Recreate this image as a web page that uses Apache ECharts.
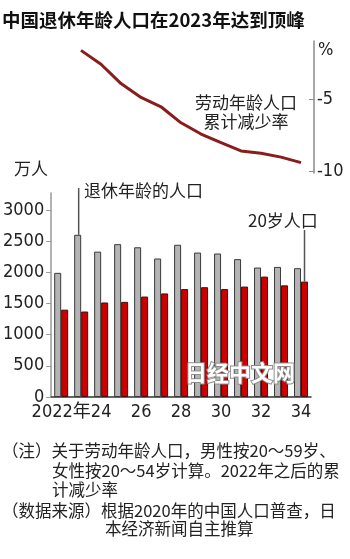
<!DOCTYPE html>
<html>
<head>
<meta charset="utf-8">
<style>
  html, body { margin: 0; padding: 0; background: #fff; }
  #chart { width: 350px; height: 559px; }
</style>
<script src="https://cdn.jsdelivr.net/npm/echarts@6/dist/echarts.min.js"></script>
</head>
<body>
<div id="chart"></div>
<script>
// Years on the category axis (labels shown every other year)
const years = ['2022年', '23', '24', '25', '26', '27', '28', '29', '30', '31', '32', '33', '34'];
// Retirement-age population, 10k people (grey bars)
const retireAge = [1990, 2600, 2330, 2450, 2400, 2220, 2440, 2315, 2300, 2210, 2075, 2085, 2065];
// Population turning 20, 10k people (red bars)
const age20 = [1400, 1370, 1515, 1525, 1610, 1660, 1730, 1760, 1730, 1770, 1930, 1790, 1850];
// Cumulative decline of the working-age population since 2022, %
const laborDecline = [null, -1.6, -2.56, -3.9, -4.86, -5.51, -6.62, -7.4, -8.0, -8.57, -8.73, -9.0, -9.38];
// Tick labels
const barTicks = [0, 500, 1000, 1500, 2000, 2500, 3000];
const pctTicks = [-5, -10];

// Pick the first condensed face that is actually installed
function pickFont(cands) {
  const ctx = document.createElement('canvas').getContext('2d');
  const probe = '3000 -10 2022';
  ctx.font = '40px monospace';
  const base = ctx.measureText(probe).width;
  for (const f of cands) {
    ctx.font = "40px '" + f + "', monospace";
    if (Math.abs(ctx.measureText(probe).width - base) > 0.5) return "'" + f + "'";
  }
  return 'sans-serif';
}
const NUMFACE = pickFont(['Liberation Sans Narrow', 'Arial Narrow', 'DejaVu Sans Condensed', 'Roboto Condensed', 'Liberation Sans']);
const NARROW = NUMFACE + ", 'Noto Sans CJK SC', sans-serif";
const CJK = "'Noto Sans CJK SC', sans-serif";
const INK = '#222';

const chart = echarts.init(document.getElementById('chart'), null, { renderer: 'canvas' });

chart.setOption({
  animation: false,
  backgroundColor: '#fff',
  grid: [
    { left: 51, width: 260, top: 41, height: 132 },
    { left: 51, width: 260, top: 193, height: 204 }
  ],
  xAxis: [
    { gridIndex: 0, type: 'category', data: years, show: false },
    {
      gridIndex: 1, type: 'category', data: years,
      axisLine: { lineStyle: { color: '#333', width: 1.5 } },
      axisTick: { show: false },
      axisLabel: { interval: 1, margin: 6, color: INK, fontFamily: NARROW, fontSize: 18 }
    }
  ],
  yAxis: [
    {
      gridIndex: 0, type: 'value', position: 'right', offset: 3,
      min: -10.1, max: -0.95,
      splitLine: { show: false },
      axisLine: { show: true, lineStyle: { color: '#8a8a8a', width: 1.5 } },
      axisTick: { show: true, inside: true, length: 5, customValues: pctTicks, lineStyle: { color: '#8a8a8a' } },
      axisLabel: { customValues: pctTicks, margin: 3, color: INK, fontFamily: NARROW, fontSize: 18,
        formatter: v => String(v) }
    },
    {
      gridIndex: 1, type: 'value', min: 0, max: 3270,
      splitLine: { show: false },
      axisLine: { show: true, lineStyle: { color: '#999', width: 1.5 } },
      axisTick: { show: true, length: 5, customValues: barTicks, lineStyle: { color: '#999' } },
      axisLabel: { customValues: barTicks, margin: 7, color: INK, fontFamily: NARROW, fontSize: 18,
        formatter: v => String(v) }
    }
  ],
  series: [
    {
      type: 'line', xAxisIndex: 0, yAxisIndex: 0, data: laborDecline,
      symbol: 'none', lineStyle: { color: '#8a1c1c', width: 3 }
    },
    {
      type: 'bar', xAxisIndex: 1, yAxisIndex: 1, data: retireAge,
      barWidth: 7, barGap: '0%',
      itemStyle: { color: '#b4b4b4', borderColor: '#3a3a3a', borderWidth: 1 }
    },
    {
      type: 'bar', xAxisIndex: 1, yAxisIndex: 1, data: age20,
      barWidth: 7, barGap: '0%',
      itemStyle: { color: '#cc0000', borderColor: '#3a1010', borderWidth: 1 }
    }
  ]
});

// Top of a bar, from the bar layout the library computed
function barTop(seriesIndex, idx) {
  const l = chart.getModel().getSeriesByIndex(seriesIndex).getData().getItemLayout(idx);
  return { x: l.x + l.width / 2, y: Math.min(l.y, l.y + l.height) };
}
const peak = barTop(1, 1);
const last20 = barTop(2, age20.length - 1);

function txt(text, x, y, opts) {
  return {
    type: 'text', x: x, y: y, z: 100, silent: true,
    style: Object.assign({ text: text, fill: INK, font: '16.5px ' + CJK, textVerticalAlign: 'middle' }, opts || {})
  };
}

const notes = [
  ['（注）关于劳动年龄人口，男性按20～59岁、', 2, 451],
  ['女性按20～54岁计算。2022年之后的累', 52, 471],
  ['计减少率', 52, 490],
  ['（数据来源）根据2020年的中国人口普查，日', 2, 511],
  ['本经济新闻自主推算', 105, 529]
];

chart.setOption({
  graphic: [
    txt('中国退休年龄人口在2023年达到顶峰', 2, 20, { font: 'bold 18.5px ' + CJK, fill: '#111' }),
    txt('%', 318, 50, { font: '18px ' + NARROW }),
    txt('劳动年龄人口\n累计减少率', 246, 112, { font: '17px ' + CJK, textAlign: 'center', lineHeight: 19 }),
    txt('万人', 14, 169, { font: '17px ' + CJK }),
    txt('退休年龄的人口', 84, 191, { font: '17px ' + CJK }),
    txt('20岁人口', 248, 221, { font: '17px ' + CJK }),
    {
      type: 'line', z: 100, silent: true,
      shape: { x1: peak.x + 1, y1: peak.y, x2: peak.x + 1, y2: 188 },
      style: { stroke: '#555', lineWidth: 1.5 }
    },
    {
      type: 'line', z: 100, silent: true,
      shape: { x1: last20.x, y1: last20.y, x2: last20.x, y2: 230 },
      style: { stroke: '#555', lineWidth: 1.5 }
    },
    txt('日经中文网', 240, 373, {
      font: 'bold 22px ' + CJK, textAlign: 'center', fill: '#fff',
      stroke: '#8c8c8c', lineWidth: 2
    })
  ].concat(notes.map(n => txt(n[0], n[1], n[2])))
});
</script>
</body>
</html>
